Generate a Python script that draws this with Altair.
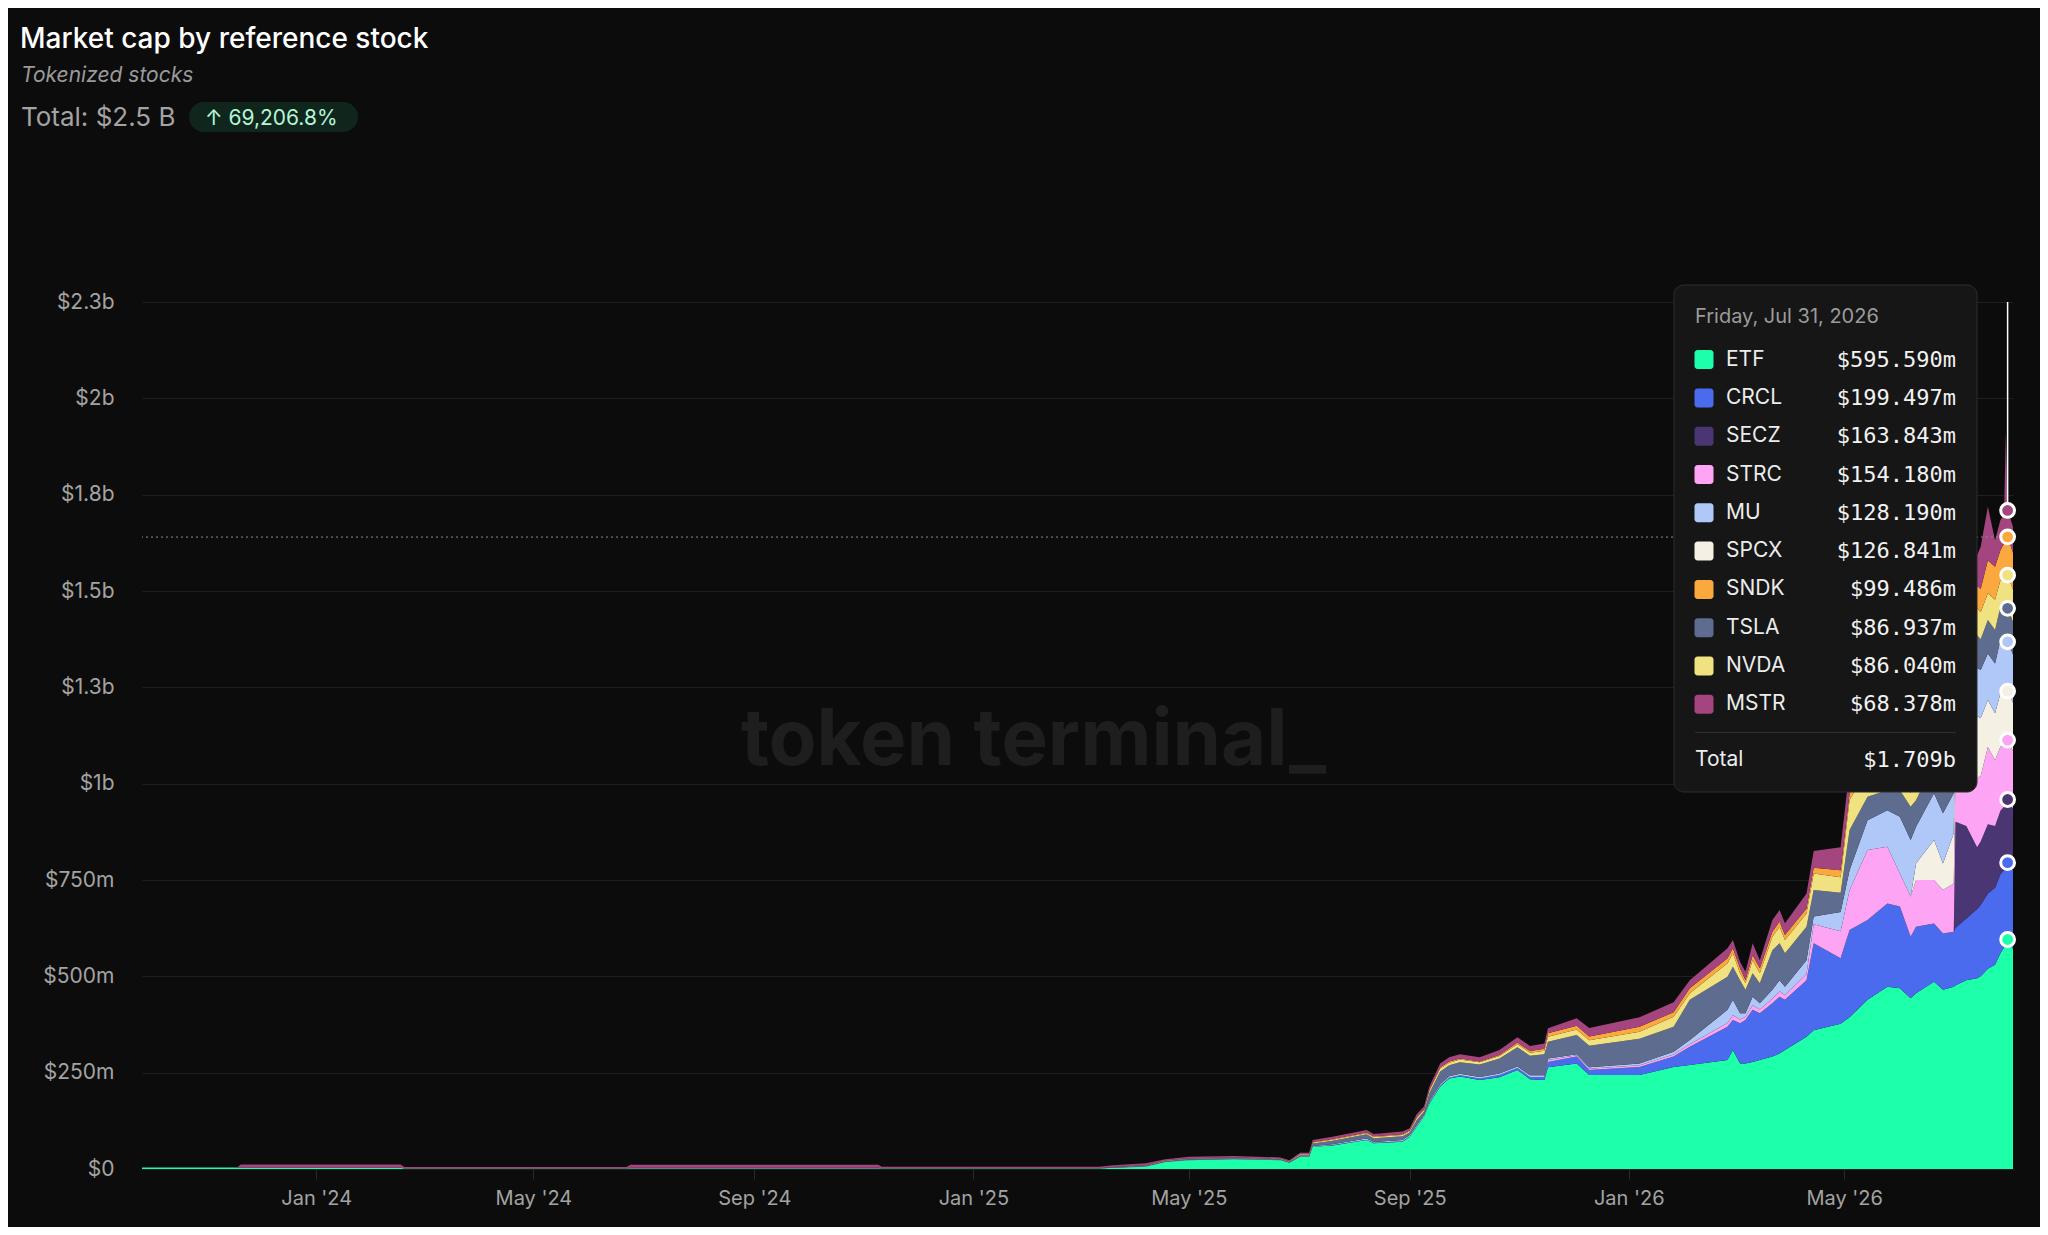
import altair as alt
import pandas as pd

# ---------------- data (values in $ millions) ----------------
SERIES = ["ETF", "CRCL", "SECZ", "STRC", "SPCX", "MU", "TSLA", "NVDA", "SNDK", "MSTR"]
COLORS = ["#1effa9", "#4b6bef", "#4a3672", "#fda4f4", "#f4f0e4", "#b0c8f8",
          "#5e6d8f", "#f0e280", "#fba83e", "#a4457f"]

DATES = [
    "2023-09-26", "2023-11-18", "2023-11-20", "2024-02-17", "2024-02-19", "2024-06-22",
    "2024-06-24", "2024-11-09", "2024-11-11", "2025-03-12", "2025-03-20", "2025-04-07",
    "2025-04-18", "2025-05-01", "2025-05-26", "2025-06-21", "2025-06-26", "2025-07-02",
    "2025-07-07", "2025-07-09", "2025-07-20", "2025-08-08", "2025-08-12", "2025-08-28",
    "2025-09-01", "2025-09-05", "2025-09-09", "2025-09-12", "2025-09-18", "2025-09-23",
    "2025-09-29", "2025-10-10", "2025-10-21", "2025-10-31", "2025-11-07", "2025-11-15",
    "2025-11-17", "2025-12-03", "2025-12-10", "2026-01-07", "2026-01-26", "2026-02-04",
    "2026-02-25", "2026-02-28", "2026-03-04", "2026-03-07", "2026-03-11", "2026-03-15",
    "2026-03-22", "2026-03-26", "2026-03-29", "2026-04-10", "2026-04-14", "2026-04-29",
    "2026-05-04", "2026-05-14", "2026-05-25", "2026-06-01", "2026-06-07", "2026-06-10",
    "2026-06-20", "2026-06-25", "2026-07-01", "2026-07-02", "2026-07-08", "2026-07-14",
    "2026-07-16", "2026-07-20", "2026-07-24", "2026-07-27", "2026-07-29", "2026-07-30",
    "2026-07-31", "2026-08-03",
]

ETF = [4, 4, 3, 3, 1, 1, 1, 1, 1, 1, 3, 6,
       18, 23, 25, 23, 16, 32, 32, 58, 61, 75, 67, 71,
       84, 110, 136, 170, 214, 235, 240, 231, 238, 257, 233, 231,
       264, 274, 244, 244, 265, 270, 283, 309, 274, 274, 278, 283,
       292, 300, 309, 343, 360, 377, 394, 439, 473, 469, 443, 456,
       486, 465, 473, 477, 490, 495, 500, 520, 530, 560, 575, 585,
       595.590, 570]
CRCL = [0, 0, 0, 0, 0, 0, 0, 0, 0, 0, 0, 0,
        0, 0, 0, 0, 0, 0, 0, 0, 1, 1, 1, 1,
        1, 1, 1, 2, 2, 2, 3, 4, 6, 5, 6, 8,
        14, 18, 13, 21, 27, 47, 86, 78, 104, 113, 135, 121,
        138, 147, 130, 147, 226, 170, 226, 207, 216, 212, 160, 173,
        151, 146, 143, 149, 160, 180, 185, 195, 200, 205, 200, 200,
        199.497, 205]
SECZ = [0] * 63 + [275, 240, 160, 165, 180, 160, 165, 165, 164, 163.843, 160]
STRC = [0, 0, 0, 0, 0, 0, 1, 1, 0, 0, 0, 0,
        0, 0, 0, 0, 0, 0, 0, 0, 0, 0, 0, 0,
        0, 0, 0, 0, 0, 0, 0, 0, 0, 0, 0, 0,
        5, 3, 3, 4, 5, 7, 10, 12, 10, 8, 12, 10,
        12, 14, 12, 16, 49, 70, 104, 182, 147, 86, 104, 121,
        113, 113, 125, 138, 140, 180, 170, 200, 171, 166, 158, 155,
        154.180, 150]
SPCX = [0] * 59 + [43, 104, 69, 130, 138, 130, 160, 150, 122, 122, 138, 128, 127,
                   126.841, 125]
MU = [0, 0, 0, 0, 0, 0, 0, 0, 0, 0, 0, 1,
      1, 1, 1, 1, 1, 1, 1, 2, 2, 3, 2, 3,
      3, 3, 3, 4, 4, 4, 4, 4, 4, 4, 4, 4,
      4, 3, 4, 5, 7, 11, 34, 40, 16, 9, 22, 16,
      23, 29, 22, 36, 20, 50, 52, 77, 95, 147, 147, 95,
      121, 130, 104, 138, 130, 125, 125, 121, 129, 139, 130, 128,
      128.190, 125]
TSLA = [0, 0, 0, 0, 0, 0, 1, 1, 1, 1, 2, 2,
        2, 3, 3, 2, 2, 3, 3, 6, 9, 11, 10, 10,
        7, 14, 9, 21, 33, 28, 30, 32, 39, 50, 51, 55,
        43, 50, 56, 64, 65, 104, 86, 86, 86, 61, 61, 52,
        103, 96, 87, 87, 69, 50, 104, 61, 52, 69, 86, 69,
        80, 80, 63, 63, 65, 85, 80, 87, 87, 86, 87, 87,
        86.937, 85]
NVDA = [0, 0, 0, 0, 0, 0, 0, 0, 0, 0, 0, 1,
        1, 1, 1, 1, 1, 2, 2, 3, 3, 3, 3, 3,
        3, 5, 4, 6, 8, 7, 7, 6, 6, 8, 8, 9,
        13, 14, 14, 18, 26, 17, 35, 35, 18, 17, 34, 26,
        35, 43, 34, 34, 43, 40, 78, 70, 70, 70, 35, 60,
        70, 70, 75, 75, 72, 70, 70, 69, 78, 69, 85, 86,
        86.040, 84]
SNDK = [0, 0, 0, 0, 0, 0, 0, 0, 0, 0, 0, 0,
        0, 0, 0, 0, 0, 0, 0, 1, 2, 2, 2, 2,
        2, 2, 2, 3, 3, 3, 3, 2, 3, 4, 4, 5,
        9, 10, 10, 13, 12, 13, 13, 13, 13, 8, 13, 13,
        13, 13, 13, 13, 15, 18, 17, 25, 30, 30, 30, 40,
        50, 50, 73, 73, 70, 58, 60, 86, 86, 78, 95, 99,
        99.486, 95]
MSTR = [0, 0, 9, 9, 4, 4, 8, 8, 4, 4, 5, 5,
        3, 4, 4, 3, 3, 4, 4, 5, 6, 6, 6, 7,
        6, 8, 7, 8, 10, 11, 11, 11, 13, 14, 13, 14,
        13, 19, 22, 25, 26, 21, 26, 21, 17, 22, 31, 21,
        30, 30, 31, 39, 43, 60, 65, 65, 65, 65, 65, 70,
        70, 65, 64, 64, 70, 80, 110, 139, 69, 78, 75, 280,
        68.378, 68]

VALUES = {"ETF": ETF, "CRCL": CRCL, "SECZ": SECZ, "STRC": STRC, "SPCX": SPCX,
          "MU": MU, "TSLA": TSLA, "NVDA": NVDA, "SNDK": SNDK, "MSTR": MSTR}

Y_TICKS = [0, 250, 500, 750, 1000, 1250, 1500, 1750, 2000, 2250]
X_TICKS = [(2024, 1), (2024, 5), (2024, 9), (2025, 1), (2025, 5), (2025, 9), (2026, 1), (2026, 5)]
HOVER_DATE = "2026-07-31"
HOVER_LABEL = "Friday, Jul 31, 2026"
CURSOR_Y = 1640

TITLE = "Market cap by reference stock"
SUBTITLE = "Tokenized stocks"
TOTAL_TEXT = "Total: $2.5 B"
CHANGE_TEXT = "\u2191 69,206.8%"
WATERMARK = "token terminal_"

# ---------------- tables ----------------
rows = []
for i, d in enumerate(DATES):
    for k, s in enumerate(SERIES):
        rows.append({"date": d, "series": s, "idx": k, "value": VALUES[s][i]})
df = pd.DataFrame(rows)

hi = DATES.index(HOVER_DATE)
hv = [VALUES[s][hi] for s in SERIES]
cum = pd.Series(hv).cumsum().tolist()
dots_df = pd.DataFrame({"date": HOVER_DATE, "series": SERIES, "cum": cum})
hover_total = sum(hv)
rule_df = pd.DataFrame({"date": [HOVER_DATE], "top": [Y_TICKS[-1]], "total": [hover_total]})

tip_df = pd.DataFrame({"series": SERIES, "value": hv})
tip_df = tip_df.sort_values("value", ascending=False).reset_index(drop=True)
tip_df["rank"] = range(len(tip_df))
tip_df["vtxt"] = tip_df["value"].map(lambda v: f"${v:.3f}m")

# ---------------- chart ----------------
W, H = 1871, 867
BG = "#0c0c0c"
color_scale = alt.Scale(domain=SERIES, range=COLORS)
x_scale = alt.Scale(type="utc", domain=[alt.DateTime(year=2023, month=9, date=26, utc=True),
                                        alt.DateTime(year=2026, month=8, date=3, utc=True)], nice=False)
y_scale = alt.Scale(domain=[0, Y_TICKS[-1]], nice=False, zero=True)

x_axis = alt.Axis(values=[alt.DateTime(year=y, month=m, date=1, utc=True) for y, m in X_TICKS],
                  labelExpr="utcFormat(datum.value, \"%b '%y\")", title=None, grid=False,
                  domain=False, ticks=True, tickColor="#2a2a2a", tickSize=10, labelColor="#a3a3a3",
                  labelFontSize=20, labelFont="Inter", labelPadding=9)
y_axis = alt.Axis(values=Y_TICKS, title=None, grid=True, gridColor="#1f1f1f", domain=False,
                  ticks=False, labelColor="#a3a3a3", labelFontSize=21, labelFont="Inter",
                  labelPadding=28,
                  labelExpr="datum.value == 0 ? '$0' : datum.value >= 1000 ? '$' + format(datum.value / 1000, '.2~r') + 'b' : '$' + format(datum.value, '.3~r') + 'm'")

one = pd.DataFrame({"t": [0]})

watermark = alt.Chart(pd.DataFrame({"t": [WATERMARK]})).mark_text(
    font="Inter", fontSize=78, fontWeight="bold", color="#1e1e1e", align="center",
    baseline="alphabetic").encode(text="t:N", x=alt.value(891.5), y=alt.value(463))

areas = alt.Chart(df).mark_area(interpolate="linear").encode(
    x=alt.X("date:T", scale=x_scale, axis=x_axis),
    y=alt.Y("value:Q", stack="zero", scale=y_scale, axis=y_axis),
    color=alt.Color("series:N", scale=color_scale, legend=None),
    order=alt.Order("idx:Q", sort="ascending"),
)

cursor = alt.Chart(one).mark_rule(color="#8a8a8a", strokeDash=[2, 3], strokeWidth=1).encode(
    y=alt.datum(CURSOR_Y))

vline = alt.Chart(rule_df).mark_rule(color="#ffffff", strokeWidth=1.5).encode(
    x="date:T", y="top:Q", y2="total:Q")

dots = alt.Chart(dots_df).mark_circle(size=190, stroke="#ffffff", strokeWidth=3, opacity=1).encode(
    x="date:T", y="cum:Q", color=alt.Color("series:N", scale=color_scale, legend=None))

# tooltip box
box = alt.Chart(one).mark_rect(fill="#161616", stroke="#2c2c2c", strokeWidth=1, cornerRadius=10).encode(
    x=alt.value(1532), x2=alt.value(1835), y=alt.value(-17), y2=alt.value(490))

date_txt = alt.Chart(pd.DataFrame({"t": [HOVER_LABEL]})).mark_text(
    font="Inter", fontSize=20, color="#9b9b9b", align="left", baseline="middle").encode(
    text="t:N", x=alt.value(1553), y=alt.value(15))

tip = alt.Chart(tip_df).transform_calculate(ty="57.6 + datum.rank * 38.3").transform_calculate(
    sy0="datum.ty - 9.5", sy1="datum.ty + 9.5")

swatches = tip.mark_rect(cornerRadius=3).encode(
    x=alt.value(1552.5), x2=alt.value(1571.5),
    y=alt.Y("sy0:Q", scale=None, axis=None), y2=alt.Y2("sy1:Q"),
    color=alt.Color("series:N", scale=color_scale, legend=None))

tip_labels = tip.mark_text(font="Inter", fontSize=21, color="#ececec", align="left",
                           baseline="middle").encode(
    x=alt.value(1584), y=alt.Y("ty:Q", scale=None, axis=None), text="series:N")

tip_values = tip.mark_text(font="DejaVu Sans Mono", fontSize=22, color="#f2f2f2", align="right",
                           baseline="middle").encode(
    x=alt.value(1814), y=alt.Y("ty:Q", scale=None, axis=None), text="vtxt:N")

sep = alt.Chart(one).mark_rule(color="#2f2f2f", strokeWidth=1).encode(
    x=alt.value(1553), x2=alt.value(1814), y=alt.value(430.5))

total_lbl = alt.Chart(pd.DataFrame({"t": ["Total"]})).mark_text(
    font="Inter", fontSize=21, color="#ececec", align="left", baseline="middle").encode(
    text="t:N", x=alt.value(1553), y=alt.value(458))
total_val = alt.Chart(pd.DataFrame({"t": [f"${hover_total / 1000:.3f}b"]})).mark_text(
    font="DejaVu Sans Mono", fontSize=22, color="#f2f2f2", align="right", baseline="middle").encode(
    text="t:N", x=alt.value(1814), y=alt.value(458))

# header
title = alt.Chart(pd.DataFrame({"t": [TITLE]})).mark_text(
    font="Inter", fontSize=28, fontWeight=500, color="#ffffff", align="left",
    baseline="alphabetic").encode(text="t:N", x=alt.value(-122), y=alt.value(-254))
subtitle = alt.Chart(pd.DataFrame({"t": [SUBTITLE]})).mark_text(
    font="Inter", fontSize=21, fontStyle="italic", color="#9a9a9a", align="left",
    baseline="alphabetic").encode(text="t:N", x=alt.value(-121), y=alt.value(-220))
total_head = alt.Chart(pd.DataFrame({"t": [TOTAL_TEXT]})).mark_text(
    font="Inter", fontSize=26, color="#a3a3a3", align="left",
    baseline="alphabetic").encode(text="t:N", x=alt.value(-121), y=alt.value(-176))
badge = alt.Chart(one).mark_rect(fill="#10261d", cornerRadius=15).encode(
    x=alt.value(47), x2=alt.value(216), y=alt.value(-200), y2=alt.value(-170))
badge_txt = alt.Chart(pd.DataFrame({"t": [CHANGE_TEXT]})).mark_text(
    font="Inter", fontSize=21, color="#b3f5d6", align="left",
    baseline="alphabetic").encode(text="t:N", x=alt.value(63), y=alt.value(-177))

chart = alt.layer(
    watermark, areas, cursor, vline, dots, box, date_txt, swatches, tip_labels, tip_values,
    sep, total_lbl, total_val, title, subtitle, total_head, badge, badge_txt,
).properties(
    width=W, height=H,
    autosize=alt.AutoSizeParams(type="none"),
    padding={"left": 134, "top": 294, "right": 27, "bottom": 58},
    background=BG,
).configure(font="Inter").configure_view(stroke="transparent", strokeWidth=0).configure_axis(
    domain=False
)

chart.save("out.html", embed_options={"renderer": "svg", "actions": False})
